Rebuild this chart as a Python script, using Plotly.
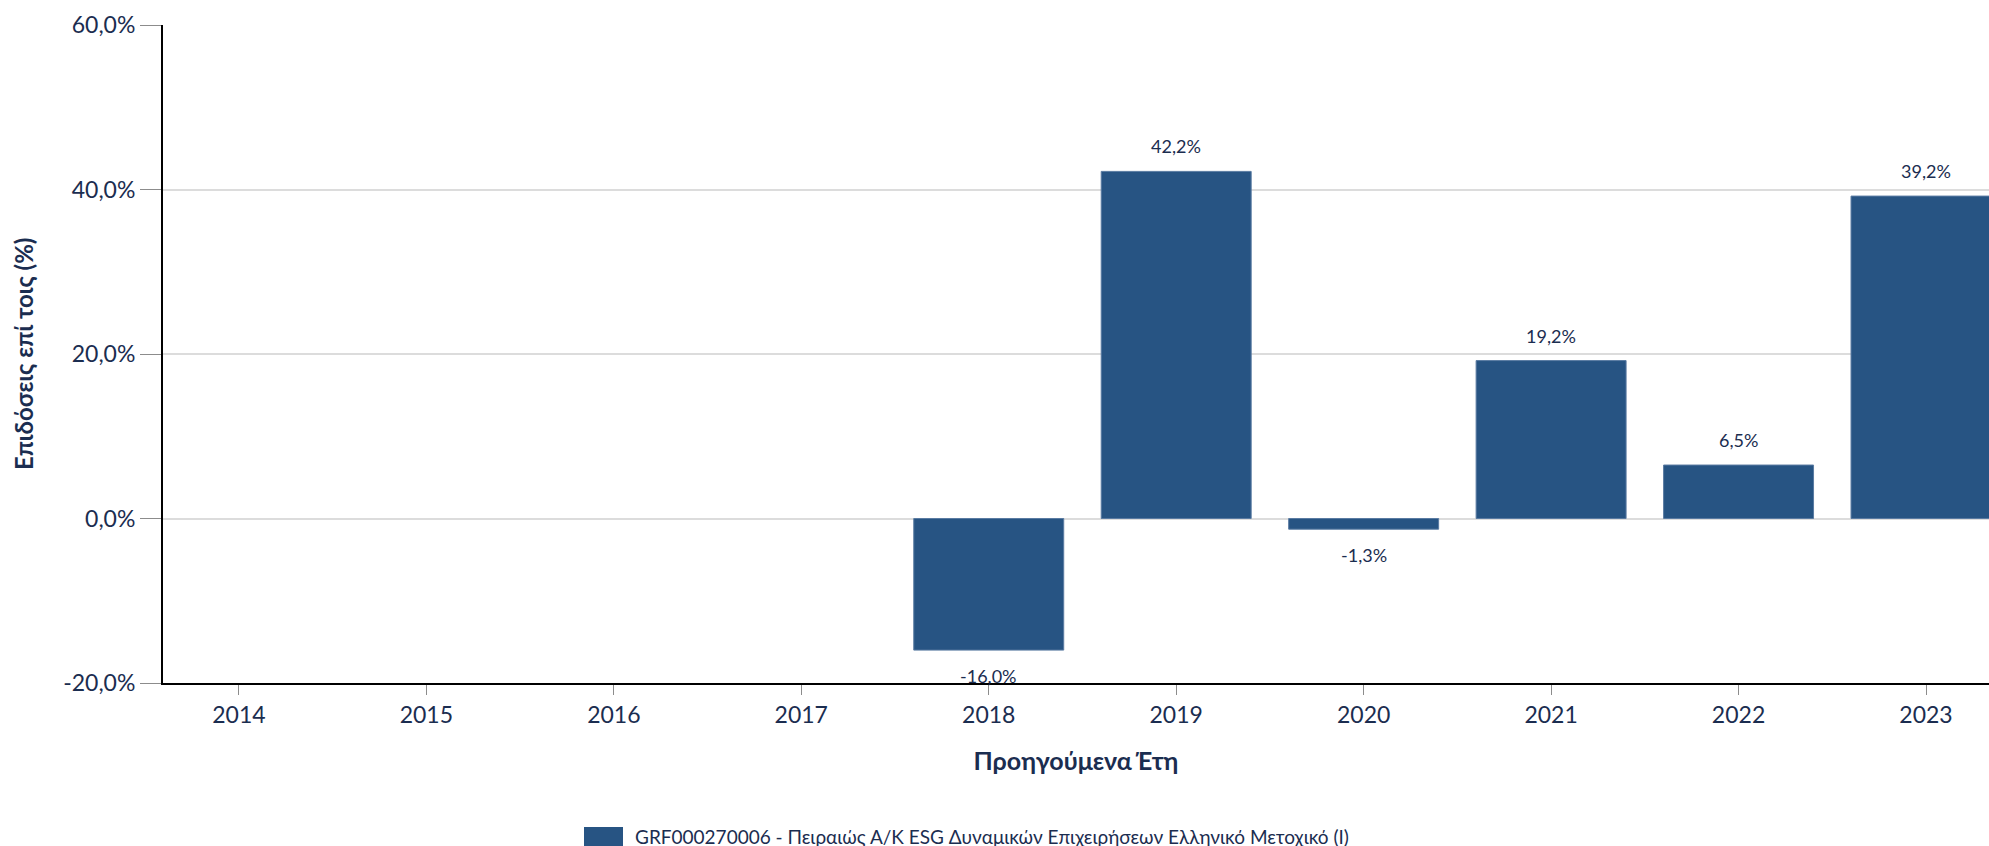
import plotly.graph_objects as go

years = ["2014", "2015", "2016", "2017", "2018", "2019", "2020", "2021", "2022", "2023"]
returns = [None, None, None, None, -16.0, 42.2, -1.3, 19.2, 6.5, 39.2]
series_name = "GRF000270006 - Πειραιώς Α/Κ ESG Δυναμικών Επιχειρήσεων Ελληνικό Μετοχικό (Ι)"
y_title = "Επιδόσεις επί τοις (%)"
x_title = "Προηγούμενα Έτη"
y_ticks = [-20, 0, 20, 40, 60]


def pct(v):
    return f"{v:.1f}".replace(".", ",") + "%"


BAR = "#275483"
TXT = "#1b2d50"
FONT = "Lato"

W, H = 1989, 846
ML, MR, MT, MB = 163, 0, 25, 163
PW = W - ML - MR
PH = H - MT - MB


def px_x(p):
    return (p - ML) / PW


def px_y(p):
    return (H - MB - p) / PH


fig = go.Figure()
fig.add_trace(go.Bar(
    x=years, y=returns, name=series_name,
    marker=dict(color=BAR, line=dict(color="#5a7ba2", width=1)),
    width=0.8, showlegend=False, hoverinfo="x+y",
))

for i, v in enumerate(returns):
    if v is None:
        continue
    fig.add_annotation(
        x=i, y=v, text=pct(v), showarrow=False,
        xref="x", yref="y", yanchor="middle",
        yshift=25 if v >= 0 else -26,
        font=dict(family=FONT, size=18, color=TXT),
    )

# y axis title
fig.add_annotation(x=px_x(23), y=0.5, xref="paper", yref="paper",
                   text=f"<b>{y_title}</b>", textangle=-90, showarrow=False,
                   xanchor="center", yanchor="middle",
                   font=dict(family=FONT, size=24, color=TXT))

# legend drawn as swatch + text
fig.add_shape(type="rect", xref="paper", yref="paper",
              x0=px_x(584), x1=px_x(623), y0=px_y(827), y1=px_y(850),
              fillcolor=BAR, line=dict(width=0))
fig.add_annotation(x=px_x(633), y=px_y(836), xref="paper", yref="paper",
                   text=series_name, showarrow=False, xanchor="left", yanchor="middle",
                   font=dict(family=FONT, size=19, color=TXT))

fig.update_layout(
    width=W, height=H,
    margin=dict(l=ML, r=MR, t=MT, b=MB, pad=0),
    paper_bgcolor="white", plot_bgcolor="white",
    separators=",.",
    font=dict(family=FONT, color=TXT, size=23),
    bargap=0.2,
)
fig.update_xaxes(
    type="category", range=[-0.405, 9.336],
    showgrid=False, showline=True, linecolor="black", linewidth=2,
    ticks="outside", ticklen=10, tickcolor="#8c8c8c", tickwidth=1,
    tickfont=dict(family=FONT, size=23, color=TXT),
    title=dict(text=f"<b>{x_title}</b>", font=dict(family=FONT, size=25, color=TXT), standoff=26),
    zeroline=False,
)
fig.update_yaxes(
    range=[-20, 60], tickvals=y_ticks, ticktext=[pct(t) for t in y_ticks],
    showgrid=True, gridcolor="#dcdcdc", gridwidth=2,
    zeroline=True, zerolinecolor="#dcdcdc", zerolinewidth=2,
    showline=True, linecolor="black", linewidth=2,
    ticks="outside", ticklen=21, tickcolor="#8c8c8c", tickwidth=1,
    tickfont=dict(family=FONT, size=23, color=TXT),
)

fig.write_html(
    "out.html",
    config={"displayModeBar": False},
    post_script="document.body.style.margin='0';document.body.style.overflow='hidden';",
)
